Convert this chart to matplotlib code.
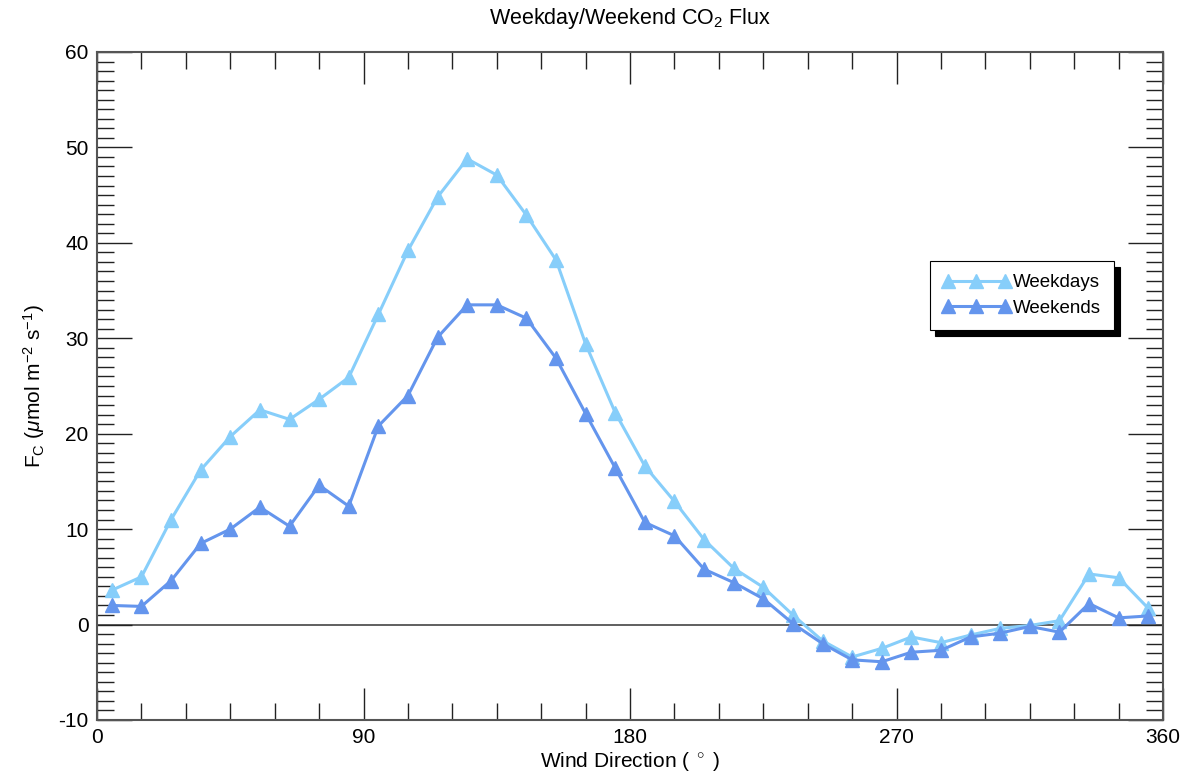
import numpy as np
import matplotlib
matplotlib.use("Agg")
import matplotlib.pyplot as plt
from matplotlib.ticker import MultipleLocator

plt.rcParams['font.family'] = ['Liberation Sans', 'DejaVu Sans']
plt.rcParams['mathtext.fontset'] = 'custom'
plt.rcParams['mathtext.rm'] = 'Liberation Sans'
plt.rcParams['mathtext.it'] = 'Liberation Sans:italic'
plt.rcParams['axes.unicode_minus'] = False

# wind direction bin centres (deg)
direction = np.arange(5, 360, 10)

weekdays = [3.6, 5.0, 11.0, 16.2, 19.7, 22.5, 21.5, 23.6, 25.9, 32.5,
            39.2, 44.8, 48.8, 47.1, 42.9, 38.2, 29.4, 22.2, 16.6, 12.9,
            8.9, 5.9, 3.9, 1.0, -1.7, -3.4, -2.5, -1.3, -1.9, -1.1,
            -0.4, -0.1, 0.4, 5.3, 4.9, 1.7]

weekends = [2.0, 1.9, 4.6, 8.5, 10.0, 12.3, 10.3, 14.6, 12.4, 20.8,
            24.0, 30.1, 33.5, 33.5, 32.1, 27.9, 22.1, 16.4, 10.7, 9.3,
            5.8, 4.4, 2.7, 0.1, -2.0, -3.7, -3.9, -2.9, -2.7, -1.3,
            -0.9, -0.2, -0.8, 2.2, 0.7, 0.9]

fig = plt.figure(figsize=(11.85, 7.78), dpi=100)
ax = fig.add_axes([0.0819, 0.0746, 0.8996, 0.8586])

ax.axhline(0, color='#444444', lw=1.2, zorder=1)

ax.plot(direction, weekdays, color='#87CEFA', lw=2.2, marker='^',
        markersize=9.5, label='Weekdays', zorder=3)
ax.plot(direction, weekends, color='#6495ED', lw=2.2, marker='^',
        markersize=9.5, label='Weekends', zorder=3)

ax.set_xlim(0, 360)
ax.set_ylim(-10, 60)
ax.xaxis.set_major_locator(MultipleLocator(90))
ax.xaxis.set_minor_locator(MultipleLocator(15))
ax.yaxis.set_major_locator(MultipleLocator(10))
ax.yaxis.set_minor_locator(MultipleLocator(1))

ax.tick_params(which='both', direction='in', top=True, right=True,
               width=1.0, color='#222222', labelsize=15)
ax.tick_params(axis='x', which='major', length=23, pad=6)
ax.tick_params(axis='x', which='minor', length=12)
ax.tick_params(axis='y', which='major', length=25, pad=6)
ax.tick_params(axis='y', which='minor', length=12)

for sp in ax.spines.values():
    sp.set_color('#555555')
    sp.set_linewidth(1.5)

ax.set_title('Weekday/Weekend CO$_2$ Flux', fontsize=15.5, pad=20)
ax.set_xlabel('Wind Direction ( $^\\circ$ )', fontsize=15, labelpad=2)
ax.set_ylabel('F$_\\mathrm{C}$ ($\\mu$mol m$^{-2}$ s$^{-1}$)', fontsize=15,
              labelpad=8)

leg = ax.legend(loc='upper left', bbox_to_anchor=(0.781, 0.687),
                numpoints=3, handlelength=3.6, handletextpad=0.15,
                fontsize=13.5, fancybox=False, framealpha=1,
                edgecolor='black', borderpad=0.7, labelspacing=0.45,
                borderaxespad=0,
                shadow={'ox': 4, 'oy': -4, 'color': 'black', 'alpha': 1})
leg.get_frame().set_linewidth(0.8)

fig.savefig('out.png', dpi=100)
